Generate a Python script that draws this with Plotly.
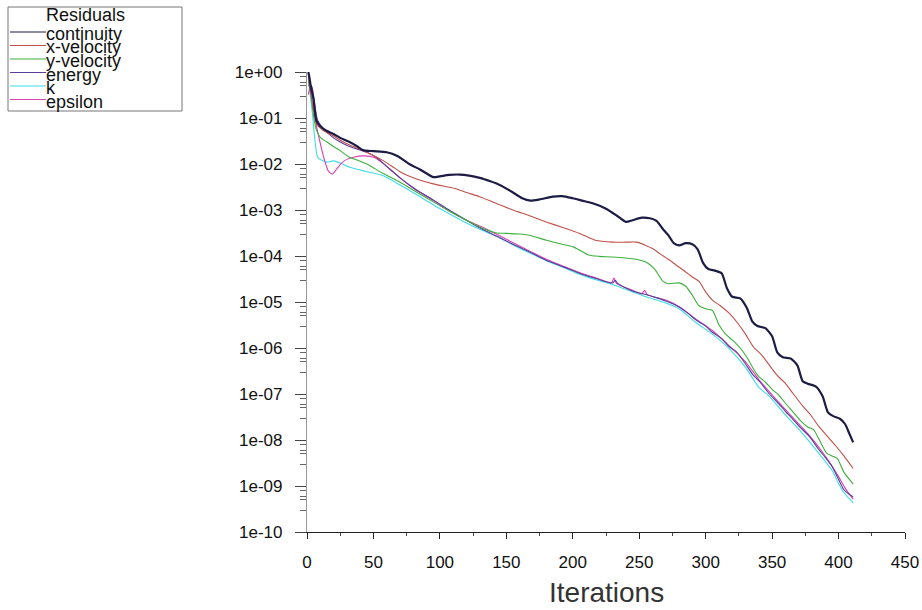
import plotly.graph_objects as go

# ---------------- data ----------------
it_cont = [1, 2, 3, 5, 7, 10, 15, 20, 25, 32, 38, 42, 50, 60, 68, 77, 85, 95, 100, 107, 115, 122, 130, 138, 145,
           155, 162, 168, 175, 185, 192, 200, 207, 215, 225, 233, 240, 245, 252, 258, 263, 268, 272, 276, 280,
           285, 290, 294, 298, 302, 307, 312, 316, 320, 326, 331, 335, 339, 345, 350, 354, 358, 364, 369, 373,
           377, 383, 388, 392, 396, 401, 405, 408, 411]
res_cont = [1.0, 0.71, 0.45, 0.25, 8.9e-2, 6.6e-2, 5.2e-2, 4.5e-2, 3.7e-2, 3.0e-2, 2.4e-2, 2.0e-2, 1.9e-2, 1.8e-2,
            1.5e-2, 1.0e-2, 7.6e-3, 5.2e-3, 5.4e-3, 5.8e-3, 5.9e-3, 5.6e-3, 5.0e-3, 4.2e-3, 3.5e-3,
            2.4e-3, 1.8e-3, 1.6e-3, 1.7e-3, 1.95e-3, 2.0e-3, 1.8e-3, 1.6e-3, 1.4e-3, 1.07e-3, 7.6e-4, 5.5e-4,
            6.0e-4, 6.8e-4, 6.6e-4, 5.8e-4, 3.8e-4, 2.8e-4, 1.9e-4, 1.7e-4, 1.9e-4, 1.8e-4, 1.4e-4, 7.1e-5,
            5.2e-5, 4.8e-5, 4.2e-5, 2.0e-5, 1.3e-5, 1.2e-5, 7.4e-6, 3.8e-6, 3.0e-6, 2.7e-6, 1.8e-6, 7.9e-7,
            6.3e-7, 5.9e-7, 4.2e-7, 1.9e-7, 1.66e-7, 1.45e-7, 8.9e-8, 4.0e-8, 3.3e-8, 2.9e-8, 2.2e-8, 1.4e-8,
            8.9e-9]

it_xvel = [1, 3, 5, 7, 12, 19, 25, 32, 40, 45, 57, 65, 70, 82, 95, 105, 112, 120, 130, 145, 155, 168, 180, 193,
           205, 217, 230, 240, 248, 255, 260, 266, 273, 279, 285, 290, 295, 300, 305, 311, 318, 324, 330, 336,
           342, 348, 354, 360, 366, 373, 379, 385, 391, 398, 404, 411]
res_xvel = [0.79, 0.32, 0.14, 7.6e-2, 5.4e-2, 4.2e-2, 3.3e-2, 2.6e-2, 2.1e-2, 1.8e-2, 1.2e-2, 8.5e-3, 6.8e-3,
            4.8e-3, 3.7e-3, 3.2e-3, 2.9e-3, 2.4e-3, 1.95e-3, 1.3e-3, 1.0e-3, 7.4e-4, 5.5e-4, 4.1e-4,
            3.1e-4, 2.2e-4, 2.0e-4, 2.0e-4, 2.0e-4, 1.7e-4, 1.45e-4, 1.1e-4, 8.1e-5, 6.0e-5, 4.5e-5, 3.5e-5,
            2.8e-5, 1.66e-5, 1.1e-5, 8.3e-6, 5.6e-6, 3.5e-6, 2.0e-6, 1.05e-6, 7.1e-7, 4.2e-7, 2.5e-7, 1.7e-7,
            1.0e-7, 5.5e-8, 3.5e-8, 2.0e-8, 1.26e-8, 7.4e-9, 4.5e-9, 2.4e-9]

it_yvel = [1, 3, 5, 7, 10, 15, 20, 25, 32, 40, 45, 57, 70, 82, 95, 107, 120, 132, 142, 150, 160, 168, 180, 192,
           200, 212, 220, 230, 245, 255, 262, 268, 272, 280, 285, 290, 295, 300, 305, 310, 315, 320, 326, 331,
           336, 340, 345, 350, 355, 360, 366, 372, 377, 381, 386, 391, 395, 399, 404, 411]
res_yvel = [0.63, 0.32, 0.11, 5.6e-2, 3.8e-2, 3.0e-2, 2.4e-2, 1.95e-2, 1.4e-2, 1.15e-2, 1.0e-2, 6.3e-3, 4.0e-3,
            2.5e-3, 1.5e-3, 9.5e-4, 6.0e-4, 4.0e-4, 3.2e-4, 3.1e-4, 3.0e-4, 2.8e-4, 2.2e-4, 1.8e-4,
            1.6e-4, 1.05e-4, 9.8e-5, 9.5e-5, 8.7e-5, 7.4e-5, 5.0e-5, 2.8e-5, 2.5e-5, 2.6e-5, 2.2e-5, 1.4e-5,
            8.3e-6, 7.1e-6, 6.6e-6, 3.2e-6, 2.0e-6, 1.5e-6, 1.0e-6, 6.3e-7, 3.5e-7, 2.4e-7, 1.8e-7, 1.26e-7,
            9.5e-8, 6.3e-8, 4.0e-8, 2.5e-8, 1.9e-8, 1.7e-8, 9.5e-9, 5.2e-9, 4.5e-9, 4.0e-9, 2.0e-9, 1.1e-9]

it_energy = [1, 3, 4, 6, 8, 12, 19, 25, 32, 45, 52, 60, 70, 82, 95, 107, 120, 132, 145, 155, 168, 180, 193, 205,
             218, 230, 232, 234, 245, 255, 262, 270, 280, 287, 293, 300, 305, 312, 318, 323, 330, 335, 341, 348,
             354, 360, 366, 371, 378, 385, 390, 395, 400, 404, 408, 411]
res_energy = [0.50, 0.50, 0.45, 0.18, 8.9e-2, 6.0e-2, 3.9e-2, 3.0e-2, 2.4e-2, 1.8e-2, 1.4e-2, 8.9e-3, 5.0e-3,
              2.8e-3, 1.66e-3, 1.0e-3, 6.0e-4, 3.8e-4, 2.5e-4, 1.8e-4, 1.2e-4, 8.1e-5, 5.8e-5, 4.2e-5,
              3.2e-5, 2.6e-5, 2.95e-5, 2.5e-5, 1.74e-5, 1.45e-5, 1.26e-5, 1.05e-5, 7.8e-6, 5.6e-6, 4.0e-6,
              3.0e-6, 2.2e-6, 1.6e-6, 1.05e-6, 8.3e-7, 4.5e-7, 2.75e-7, 1.8e-7, 1.0e-7, 6.6e-8, 4.2e-8,
              2.75e-8, 1.9e-8, 1.2e-8, 6.3e-9, 4.2e-9, 2.7e-9, 1.4e-9, 8.3e-10, 6.6e-10, 5.8e-10]

it_k = [1, 2, 4, 6, 8, 11, 15, 20, 25, 32, 40, 45, 57, 70, 82, 95, 107, 120, 130, 145, 155, 168, 180, 193, 205,
        218, 230, 245, 255, 270, 280, 293, 305, 318, 330, 340, 348, 360, 371, 385, 395, 403, 411]
res_k = [0.89, 0.40, 0.13, 3.2e-2, 1.4e-2, 1.2e-2, 1.1e-2, 1.17e-2, 1.05e-2, 8.5e-3, 7.4e-3, 6.8e-3, 5.6e-3,
         3.5e-3, 2.2e-3, 1.3e-3, 8.3e-4, 5.2e-4, 3.8e-4, 2.5e-4, 1.74e-4, 1.15e-4, 7.9e-5, 5.6e-5, 4.0e-5,
         3.0e-5, 2.4e-5, 1.66e-5, 1.3e-5, 9.5e-6, 7.1e-6, 3.5e-6, 2.0e-6, 9.5e-7, 3.8e-7, 1.4e-7, 8.9e-8,
         3.5e-8, 1.6e-8, 5.2e-9, 2.2e-9, 7.9e-10, 4.3e-10]

it_eps = [1, 2, 3, 4, 5, 7, 10, 13, 16, 19, 22, 26, 30, 35, 42, 50, 56, 62, 70, 82, 95, 107, 120, 130, 145, 155,
          168, 180, 193, 205, 218, 229, 231, 233, 245, 252, 254, 256, 270, 280, 293, 305, 318, 330, 341, 354,
          366, 378, 390, 400, 405, 411]
res_eps = [0.32, 0.45, 0.52, 0.40, 0.18, 7.1e-2, 2.8e-2, 1.26e-2, 7.1e-3, 6.0e-3, 7.6e-3, 1.05e-2, 1.26e-2,
           1.4e-2, 1.5e-2, 1.4e-2, 1.1e-2, 7.9e-3, 5.0e-3, 2.7e-3, 1.6e-3, 9.5e-4, 6.0e-4, 4.5e-4, 2.75e-4,
           1.95e-4, 1.26e-4, 8.5e-5, 6.0e-5, 4.4e-5, 3.3e-5, 2.6e-5, 3.3e-5, 2.5e-5, 1.8e-5, 1.5e-5, 1.8e-5,
           1.45e-5, 1.1e-5, 7.9e-6, 4.2e-6, 2.4e-6, 1.1e-6, 5.0e-7, 1.9e-7, 7.1e-8, 3.0e-8, 1.26e-8, 4.5e-9,
           1.6e-9, 8.9e-10, 5.2e-10]

series_names = ["continuity", "x-velocity", "y-velocity", "energy", "k", "epsilon"]
series_colors = ["#1c1c44", "#c0504a", "#3cb03c", "#5a3c9c", "#3cdce8", "#d840b0"]
series_widths = [2.2, 1.1, 1.1, 1.1, 1.1, 1.1]
series_x = [it_cont, it_xvel, it_yvel, it_energy, it_k, it_eps]
series_y = [res_cont, res_xvel, res_yvel, res_energy, res_k, res_eps]

y_tick_exps = list(range(0, -11, -1))
y_tick_text = ["1e+00", "1e-01", "1e-02", "1e-03", "1e-04", "1e-05",
               "1e-06", "1e-07", "1e-08", "1e-09", "1e-10"]
x_tick_vals = [0, 50, 100, 150, 200, 250, 300, 350, 400, 450]

legend_title = "Residuals"
x_title = "Iterations"

# ---------------- figure ----------------
W, H = 922, 610
L, R, T, B = 307, 17, 72, 78

fig = go.Figure()
draw_order = [4, 5, 3, 2, 1, 0]
for i in draw_order:
    fig.add_trace(go.Scatter(x=series_x[i], y=series_y[i], mode="lines", name=series_names[i],
                             line=dict(color=series_colors[i], width=series_widths[i], shape="spline",
                                       smoothing=0.6),
                             showlegend=False))

y_tick_vals = [10.0 ** e for e in y_tick_exps]
y_minor = []
for e in y_tick_exps[1:]:
    for m in (3, 5, 6, 8):
        y_minor.append(m * 10.0 ** e)

fig.update_layout(
    width=W, height=H,
    margin=dict(l=L, r=R, t=T, b=B, autoexpand=False),
    paper_bgcolor="white", plot_bgcolor="white",
    font=dict(family="Liberation Sans, Arial, sans-serif", color="#111"),
    xaxis=dict(range=[0, 450], tickvals=x_tick_vals, ticks="outside", ticklen=6, tickwidth=1,
               tickcolor="#222", showline=True, linecolor="#222", linewidth=1.2,
               showgrid=False, zeroline=False, tickfont=dict(size=17, color="#111"),
               ticklabelstandoff=8, automargin=False,
               minor=dict(tickvals=[25, 75, 125, 175, 225, 275, 325, 375, 425], ticks="outside",
                          ticklen=3, tickcolor="#444", showgrid=False)),
    yaxis=dict(type="log", range=[-10, 0], tickvals=y_tick_vals, ticktext=y_tick_text,
               ticks="outside", ticklen=11, tickwidth=1, tickcolor="#444", automargin=False,
               showline=True, linecolor="#999", linewidth=1.2, showgrid=False, zeroline=False,
               tickfont=dict(size=17, color="#111"), ticklabelstandoff=9,
               minor=dict(tickvals=y_minor, ticks="outside", ticklen=6, tickcolor="#666", showgrid=False)),
)

# ---------------- hand-drawn legend box (Fluent style) and axis title ----------------
pw, ph = W - L - R, H - T - B


def px(xp):
    return (xp - L) / pw


def py(yp):
    return (H - B - yp) / ph


fig.add_annotation(xref="paper", yref="paper", x=0.5, y=py(592), text=x_title, showarrow=False,
                   xanchor="center", yanchor="middle", font=dict(size=28, color="#333"))

fig.add_shape(type="rect", xref="paper", yref="paper", x0=px(8), x1=px(182), y0=py(7), y1=py(111),
              line=dict(color="#777", width=1), fillcolor="white", layer="above")
fig.add_annotation(xref="paper", yref="paper", x=px(44), y=py(15), text=legend_title, showarrow=False,
                   xanchor="left", yanchor="middle", font=dict(size=18, color="#111"))
legend_rows = [32, 45.5, 59, 72.5, 86, 99.5]
for i, name in enumerate(series_names):
    yy = legend_rows[i]
    fig.add_shape(type="line", xref="paper", yref="paper", x0=px(10), x1=px(46), y0=py(yy), y1=py(yy),
                  line=dict(color=series_colors[i], width=1.2), layer="above")
    fig.add_annotation(xref="paper", yref="paper", x=px(44), y=py(yy + 2), text=name, showarrow=False,
                       xanchor="left", yanchor="middle", font=dict(size=18, color="#111"))

fig.write_html("out.html")
